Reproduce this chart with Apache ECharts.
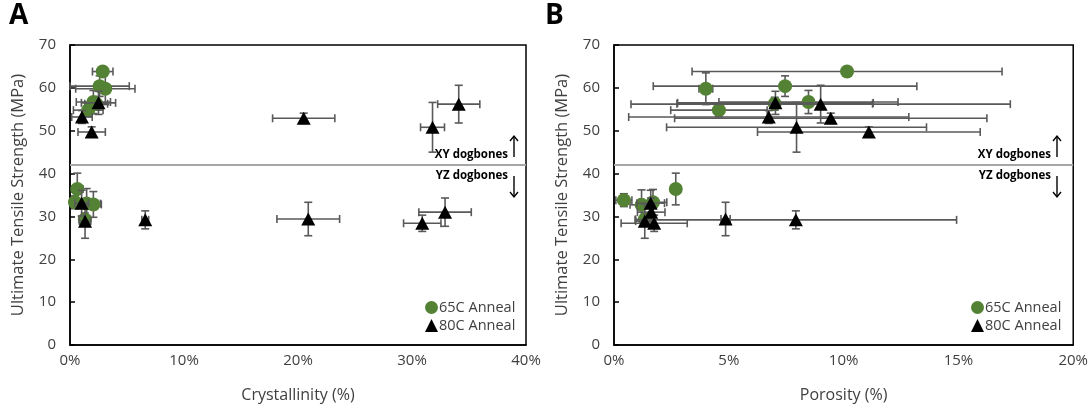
<!DOCTYPE html>
<html>
<head>
<meta charset="utf-8">
<script src="https://cdn.jsdelivr.net/npm/echarts@6/dist/echarts.min.js"></script>
<style>
html,body{margin:0;padding:0;background:#fff;}
#chart{width:1091px;height:411px;}
</style>
</head>
<body>
<div id="chart"></div>
<script>
// ---------- DATA ----------
// Panel A: crystallinity (%) vs UTS (MPa)
const a65_x  = [2.87, 2.6, 3.1, 2.05, 1.6, 2.3, 0.64, 0.44, 1.46, 2.05, 1.3];
const a65_y  = [63.8, 60.4, 59.8, 56.7, 54.8, 56.3, 36.4, 33.3, 33.0, 32.8, 29.3];
const a65_xe = [0.9, 2.6, 2.6, 1.5, 1.3, 1.0, 0.5, 0.4, 1.2, 0.7, 0.5];
const a65_ye = [0.8, 2.4, 3.7, 2.7, 1.5, 1.5, 3.7, 1.5, 3.5, 3.0, 1.5];

const a80_x  = [1.05, 1.9, 2.5, 20.5, 31.8, 34.1, 1.02, 1.32, 6.6, 20.9, 30.9, 32.9];
const a80_y  = [53.2, 49.7, 56.5, 52.9, 50.8, 56.2, 33.1, 28.9, 29.2, 29.4, 28.4, 31.0];
const a80_xe = [0.9, 1.2, 1.5, 2.73, 1.05, 1.85, 0.6, 0.5, 0.3, 2.75, 1.64, 2.3];
const a80_ye = [1.5, 1.2, 2.7, 1.2, 5.8, 4.4, 3.0, 4.0, 2.1, 3.9, 1.9, 3.3];

// Panel B: porosity (%) vs UTS (MPa)
const b65_x  = [10.15, 7.45, 4.0, 8.47, 4.57, 7.0, 2.69, 0.43, 1.7, 1.2, 1.34];
const b65_y  = [63.8, 60.4, 59.8, 56.7, 54.8, 56.3, 36.4, 33.8, 33.3, 32.7, 29.3];
const b65_xe = [6.75, 5.74, 0.3, 3.9, 2.1, 4.26, 0.2, 0.35, 0.6, 0.5, 0.4];
const b65_ye = [0.8, 2.4, 3.7, 2.7, 1.5, 1.5, 3.7, 1.5, 3.0, 3.5, 1.5];

const b80_x  = [6.74, 11.1, 7.03, 9.44, 7.95, 9.0, 1.6, 1.34, 7.92, 4.86, 1.75, 1.62];
const b80_y  = [53.2, 49.7, 56.5, 52.9, 50.8, 56.2, 33.1, 28.9, 29.2, 29.4, 28.4, 31.0];
const b80_xe = [6.1, 4.85, 4.26, 6.8, 5.66, 8.26, 0.6, 0.4, 7.0, 0.2, 1.44, 0.6];
const b80_ye = [1.5, 1.2, 2.7, 1.2, 5.8, 4.4, 3.0, 4.0, 2.1, 3.9, 1.9, 3.3];

const divider = 42;          // XY / YZ dogbone split line (MPa)
const seriesNames = ['65C Anneal', '80C Anneal'];
const xNames = ['Crystallinity (%)', 'Porosity (%)'];
const yName = 'Ultimate Tensile Strength (MPa)';

// ---------- CHART ----------
const FONT = '"Open Sans", Lato, sans-serif';
const GREEN = '#548235';
const ERR = '#595959';
const TXT = '#404040';

function pts(xs, ys) { return xs.map((x, i) => [x, ys[i]]); }
function errs(xs, ys, xe, ye) { return xs.map((x, i) => [x, ys[i], xe[i], ye[i]]); }

function errRender(params, api) {
  const x = api.value(0), y = api.value(1), xe = api.value(2), ye = api.value(3);
  const st = { stroke: ERR, lineWidth: 1.6 };
  const cap = 4;
  const ch = [];
  if (xe > 0) {
    const l = api.coord([x - xe, y]), r = api.coord([x + xe, y]);
    ch.push({ type: 'line', shape: { x1: l[0], y1: l[1], x2: r[0], y2: r[1] }, style: st });
    ch.push({ type: 'line', shape: { x1: l[0], y1: l[1] - cap, x2: l[0], y2: l[1] + cap }, style: st });
    ch.push({ type: 'line', shape: { x1: r[0], y1: r[1] - cap, x2: r[0], y2: r[1] + cap }, style: st });
  }
  if (ye > 0) {
    const t = api.coord([x, y + ye]), b = api.coord([x, y - ye]);
    ch.push({ type: 'line', shape: { x1: t[0], y1: t[1], x2: b[0], y2: b[1] }, style: st });
    ch.push({ type: 'line', shape: { x1: t[0] - cap, y1: t[1], x2: t[0] + cap, y2: t[1] }, style: st });
    ch.push({ type: 'line', shape: { x1: b[0] - cap, y1: b[1], x2: b[0] + cap, y2: b[1] }, style: st });
  }
  return { type: 'group', children: ch };
}

const grids = [
  { left: 70, right: 565, top: 45, bottom: 66 },
  { left: 614, right: 16, top: 45, bottom: 66 }
];
const xMax = [40, 20], xInt = [10, 5];

const xAxes = [0, 1].map(i => ({
  type: 'value', gridIndex: i, min: 0, max: xMax[i], interval: xInt[i],
  name: xNames[i], nameLocation: 'middle', nameGap: 42,
  nameTextStyle: { fontFamily: FONT, fontSize: 16, color: TXT },
  axisLine: { show: true, lineStyle: { color: '#000', width: 1.5 } },
  axisTick: { show: false },
  axisLabel: { formatter: '{value}%', fontFamily: FONT, fontSize: 15, color: TXT, margin: 8 },
  splitLine: { show: false }
}));
const yAxes = [0, 1].map(i => ({
  type: 'value', gridIndex: i, min: 0, max: 70, interval: 10,
  name: yName, nameLocation: 'middle', nameGap: 43,
  nameTextStyle: { fontFamily: FONT, fontSize: 16.5, color: TXT },
  axisLine: { show: true, lineStyle: { color: '#000', width: 1.5 } },
  axisTick: { show: true, inside: true, length: 5, lineStyle: { color: '#000', width: 1.5 } },
  axisLabel: { fontFamily: FONT, fontSize: 15, color: TXT, margin: 14 },
  splitLine: { show: false }
}));

const panels = [
  { g: [a65_x, a65_y, a65_xe, a65_ye], t: [a80_x, a80_y, a80_xe, a80_ye] },
  { g: [b65_x, b65_y, b65_xe, b65_ye], t: [b80_x, b80_y, b80_xe, b80_ye] }
];

const series = [];
panels.forEach((p, i) => {
  series.push({
    type: 'custom', xAxisIndex: i, yAxisIndex: i, renderItem: errRender,
    encode: { x: 0, y: 1 }, data: errs(...p.g), z: 2, silent: true,
    markLine: {
      silent: true, symbol: 'none', label: { show: false },
      lineStyle: { color: '#a6a6a6', width: 2, type: 'solid' },
      data: [{ yAxis: divider }]
    }
  });
  series.push({
    type: 'scatter', name: seriesNames[0], xAxisIndex: i, yAxisIndex: i,
    symbol: 'circle', symbolSize: 14, itemStyle: { color: GREEN, opacity: 1 },
    data: pts(p.g[0], p.g[1]), z: 3
  });
  series.push({
    type: 'custom', xAxisIndex: i, yAxisIndex: i, renderItem: errRender,
    encode: { x: 0, y: 1 }, data: errs(...p.t), z: 4, silent: true
  });
  series.push({
    type: 'scatter', name: seriesNames[1], xAxisIndex: i, yAxisIndex: i,
    symbol: 'triangle', symbolSize: [14, 13], itemStyle: { color: '#000', opacity: 1 },
    data: pts(p.t[0], p.t[1]), z: 5
  });
});

function legendAt(left) {
  return {
    left: left, top: 295, orient: 'vertical', itemGap: 3, itemWidth: 13, itemHeight: 13,
    selectedMode: false,
    textStyle: { fontFamily: FONT, fontSize: 14.5, color: TXT, padding: [0, 0, 0, -4] },
    data: [{ name: seriesNames[0], icon: 'circle' }, { name: seriesNames[1], icon: 'triangle' }]
  };
}

function annot(xRight, arrowX) {
  const ts = { fontFamily: FONT, fontSize: 11.5, fontWeight: 'bold', fill: '#000', textAlign: 'right', textVerticalAlign: 'middle' };
  const ls = { stroke: '#000', lineWidth: 1.4 };
  return [
    { type: 'text', x: xRight, y: 155, style: Object.assign({ text: 'XY dogbones' }, ts) },
    { type: 'text', x: xRight, y: 176, style: Object.assign({ text: 'YZ dogbones' }, ts) },
    { type: 'line', shape: { x1: arrowX, y1: 136, x2: arrowX, y2: 157 }, style: ls },
    { type: 'polyline', shape: { points: [[arrowX - 4, 141], [arrowX, 136], [arrowX + 4, 141]] }, style: { stroke: '#000', lineWidth: 1.4, fill: null } },
    { type: 'line', shape: { x1: arrowX, y1: 176, x2: arrowX, y2: 197 }, style: ls },
    { type: 'polyline', shape: { points: [[arrowX - 4, 192], [arrowX, 197], [arrowX + 4, 192]] }, style: { stroke: '#000', lineWidth: 1.4, fill: null } }
  ];
}

const chart = echarts.init(document.getElementById('chart'), null, { renderer: 'canvas' });
chart.setOption({
  backgroundColor: '#fff',
  animation: false,
  grid: grids.map(g => Object.assign({ show: true, borderColor: '#000', borderWidth: 1.5, backgroundColor: 'transparent' }, g)),
  xAxis: xAxes,
  yAxis: yAxes,
  legend: [legendAt(420), legendAt(966)],
  series: series,
  graphic: [
    { type: 'text', left: 9, top: 2, style: { text: 'A', fontFamily: FONT, fontSize: 28, fontWeight: 'bold', fill: '#000' } },
    { type: 'text', left: 545, top: 2, style: { text: 'B', fontFamily: FONT, fontSize: 28, fontWeight: 'bold', fill: '#000' } }
  ].concat(annot(508, 514), annot(1051, 1057))
});
</script>
</body>
</html>
